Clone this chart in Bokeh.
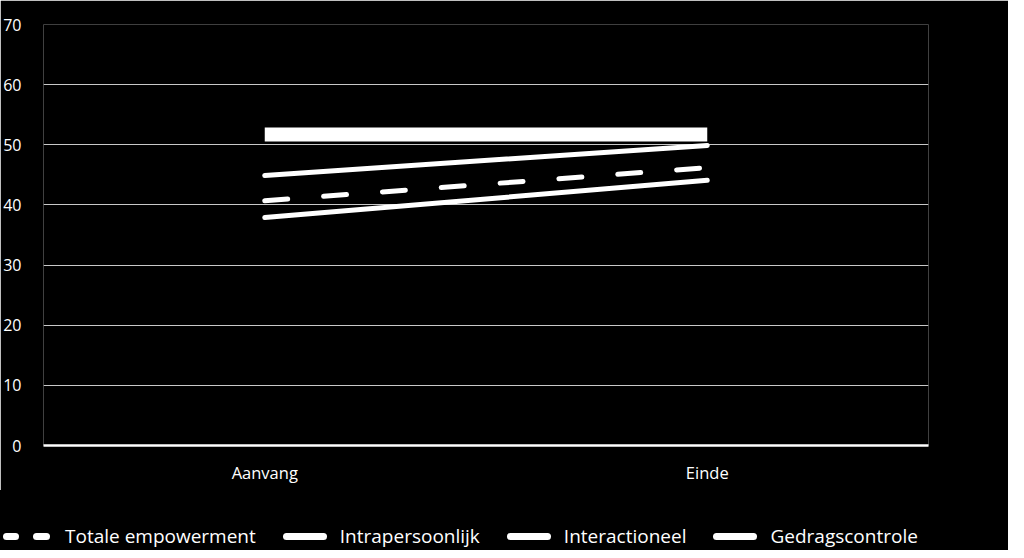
from bokeh.plotting import figure
from bokeh.layouts import column
from bokeh.models import FactorRange, Range1d, ColumnDataSource, SingleIntervalTicker, Div
from bokeh.embed import file_html
from bokeh.resources import INLINE

categories = ["Aanvang", "Einde"]
series_names = ["Totale empowerment", "Intrapersoonlijk", "Interactioneel", "Gedragscontrole"]
totale = [40.7, 46.2]
intrapersoonlijk = [44.9, 49.9]
interactioneel = [37.9, 44.1]
gedragscontrole = [51.7, 51.7]

FONT = "Open Sans"

p = figure(x_range=FactorRange(*categories), y_range=Range1d(0, 70),
           width=1008, height=490,
           min_border_left=43, min_border_top=24, min_border_right=80, min_border_bottom=45,
           output_backend="svg", toolbar_location=None)
p.background_fill_color = "black"
p.border_fill_color = "black"
p.outline_line_color = None

p.x_range.range_padding = 0

p.yaxis.ticker = SingleIntervalTicker(interval=10)
p.yaxis.axis_line_color = None
p.yaxis.major_tick_line_color = None
p.yaxis.minor_tick_line_color = None
p.yaxis.major_label_text_color = "white"
p.yaxis.major_label_text_font = FONT
p.yaxis.major_label_text_font_size = "16px"
p.yaxis.major_label_standoff = 16

p.xaxis.axis_line_color = "white"
p.xaxis.axis_line_width = 2.5
p.xaxis.major_tick_line_color = None
p.xaxis.minor_tick_line_color = None
p.xaxis.major_label_text_color = "white"
p.xaxis.major_label_text_font = FONT
p.xaxis.major_label_text_font_size = "16.5px"
p.xaxis.major_label_standoff = 9

p.xgrid.grid_line_color = None
p.ygrid.grid_line_color = "#c8c8c8"
p.ygrid.grid_line_width = 1.2

src = ColumnDataSource(dict(x=categories, totale=totale, intra=intrapersoonlijk,
                            inter=interactioneel, gedrag=gedragscontrole))

p.line("x", "gedrag", source=src, line_color="white", line_width=14, line_cap="butt")
p.line("x", "intra", source=src, line_color="white", line_width=5, line_cap="round")
p.line("x", "inter", source=src, line_color="white", line_width=5, line_cap="round")
p.line("x", "totale", source=src, line_color="white", line_width=5, line_cap="round", line_dash="23 36")

# legend strip below the plot (HTML, real text)
pill = "display:inline-block;height:7px;border-radius:4px;background:#ffffff;"
dashed_glyph = ('<span style="display:inline-flex;width:47px;justify-content:space-between;margin-right:15px;">'
                f'<span style="{pill}width:16px;"></span><span style="{pill}width:17px;"></span></span>')
solid_glyph = f'<span style="{pill}width:44px;margin-right:13px;"></span>'
items = []
for i, name in enumerate(series_names):
    glyph = dashed_glyph if i == 0 else solid_glyph
    items.append(f'<span style="display:inline-flex;align-items:center;margin-right:27px;">{glyph}'
                 f'<span>{name}</span></span>')
legend_html = (
    '<div style="position:relative;width:1008px;height:60px;background:#000000;">'
    f'<div style="position:absolute;left:3px;top:33px;height:28px;display:flex;align-items:center;'
    f'white-space:nowrap;font-family:\'{FONT}\';font-size:19px;color:#ffffff;">'
    + "".join(items) + '</div></div>'
)
legend_div = Div(text=legend_html, width=1008, height=60, margin=(0, 0, 0, 0),
                 styles={"background-color": "black"})

layout = column(p, legend_div, spacing=0)
open("out.html", "w").write(file_html(layout, INLINE))
